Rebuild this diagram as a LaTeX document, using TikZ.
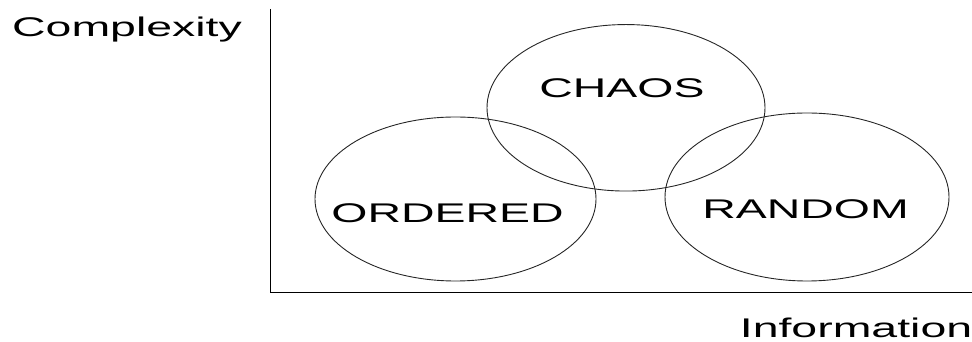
\documentclass[tikz,border=0pt]{standalone}
\usepackage{fontspec}
\setmainfont{Liberation Sans}
\usetikzlibrary{shapes.geometric}
\tikzset{
  region/.style={draw=black!85, line width=0.9pt, ellipse, inner sep=0pt},
  axis/.style={draw=black, line width=1.4pt},
  lbl/.style={inner sep=0pt, anchor=base, font=\fontsize{27}{30}\selectfont}
}
\newcommand{\wide}[1]{\scalebox{1.72}[1]{#1}}
\begin{document}
\begin{tikzpicture}[x=1pt,y=1pt]
\useasboundingbox (0,0) rectangle (972,342);
% axes
\coordinate (top) at (270.5,333);
\coordinate (origin) at (270.5,49.7);
\coordinate (right) at (972,49.7);
\draw[axis] (top) -- (origin) -- (right);
% regions
\node[region, minimum width=278pt, minimum height=166.5pt] (chaos) at (626,234.2) {};
\node[region, minimum width=281pt, minimum height=164pt] (ordered) at (455.5,143) {};
\node[region, minimum width=284pt, minimum height=168pt] (random) at (807,145) {};
% labels
\node[lbl] (tchaos) at (622,244) {\wide{CHAOS}};
\node[lbl] (tordered) at (447.5,119) {\wide{ORDERED}};
\node[lbl] (trandom) at (805.5,123) {\wide{RANDOM}};
\node[lbl] (ycap) at (127,305) {\wide{Complexity}};
\node[lbl] (xcap) at (856,4) {\wide{Information}};
\end{tikzpicture}
\end{document}
